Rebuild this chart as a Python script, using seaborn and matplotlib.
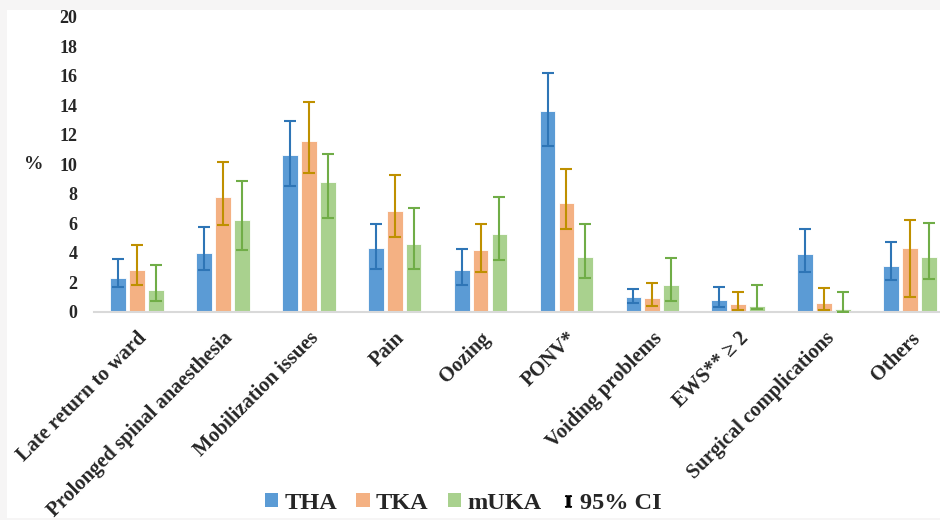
import pandas as pd
import seaborn as sns
import matplotlib.pyplot as plt
from matplotlib.patches import Patch, Rectangle
from matplotlib.lines import Line2D

# Categories and groups
categories = ['Late return to ward', 'Prolonged spinal anaesthesia', 'Mobilization issues',
              'Pain', 'Oozing', 'PONV*', 'Voiding problems', 'EWS** \u2265 2',
              'Surgical complications', 'Others']
groups = ['THA', 'TKA', 'mUKA']

# Percentages
tha = [2.3, 4.0, 10.6, 4.3, 2.8, 13.6, 1.0, 0.8, 3.9, 3.1]
tka = [2.8, 7.8, 11.6, 6.8, 4.2, 7.4, 0.9, 0.5, 0.6, 4.3]
muka = [1.5, 6.2, 8.8, 4.6, 5.3, 3.7, 1.8, 0.4, 0.2, 3.7]

# 95% CI bounds
tha_lo = [1.65, 2.85, 8.55, 2.9, 1.8, 11.25, 0.57, 0.3, 2.67, 2.13]
tha_hi = [3.57, 5.72, 12.95, 5.95, 4.25, 16.2, 1.54, 1.7, 5.59, 4.7]
tka_lo = [1.8, 5.88, 9.38, 5.04, 2.71, 5.59, 0.41, 0.1, 0.14, 1.0]
tka_hi = [4.5, 10.13, 14.22, 9.25, 5.97, 9.67, 1.97, 1.34, 1.59, 6.24]
muka_lo = [0.7, 4.2, 6.33, 2.92, 3.53, 2.28, 0.73, 0.2, 0.0, 2.24]
muka_hi = [3.17, 8.84, 10.71, 7.05, 7.8, 5.97, 3.62, 1.79, 1.34, 6.03]

bar_colors = ['#5B9BD5', '#F4B183', '#A9D18E']
err_colors = ['#2E75B6', '#BF9000', '#70AD47']

df = pd.DataFrame({
    'category': categories * 3,
    'group': [g for g in groups for _ in categories],
    'value': tha + tka + muka,
})
lows = [tha_lo, tka_lo, muka_lo]
highs = [tha_hi, tka_hi, muka_hi]

sns.set_style('white')
plt.rcParams['font.family'] = ['Liberation Serif', 'DejaVu Serif']
plt.rcParams['font.weight'] = 'bold'
plt.rcParams['mathtext.fontset'] = 'stix'

fig = plt.figure(figsize=(9.4, 5.2), dpi=100)
fig.patch.set_facecolor('#f6f5f5')
# white chart area inside the light grey frame
fig.add_artist(Rectangle((7 / 940, 2.5 / 520), 1, 507.5 / 520, transform=fig.transFigure,
                         facecolor='white', edgecolor='none', zorder=0))

ax = fig.add_axes([94 / 940, 1 - 311.7 / 520, 859 / 940, 295 / 520])
ax.set_facecolor('none')

sns.barplot(data=df, x='category', y='value', hue='group', palette=bar_colors,
            saturation=1, width=0.66, gap=0.16, errorbar=None, edgecolor='white',
            linewidth=0.6, legend=False, ax=ax)

# 95% CI error bars at the centre of every bar
bar_sets = list(ax.containers)
for i, bars in enumerate(bar_sets):
    xs = [b.get_x() + b.get_width() / 2 for b in bars]
    ys = [b.get_height() for b in bars]
    lo = [y - l for y, l in zip(ys, lows[i])]
    hi = [h - y for y, h in zip(ys, highs[i])]
    ax.errorbar(xs, ys, yerr=[lo, hi], fmt='none', ecolor=err_colors[i],
                elinewidth=1.5, capsize=4.3, capthick=1.5, zorder=3)

ax.set_ylim(0, 20)
ax.set_xlim(-0.5, 9.5)
ax.set_yticks(range(0, 21, 2))
ax.tick_params(axis='y', labelsize=13, pad=12, length=0)
ax.tick_params(axis='x', labelsize=14.8, pad=12, length=0)
ax.set_xticks(range(len(categories)))
ax.set_xticklabels(categories, rotation=45, ha='right', rotation_mode='anchor', fontweight='bold')
for t in ax.get_yticklabels():
    t.set_fontweight('bold')
ax.set_xlabel('')
ax.set_ylabel('%', rotation=0, fontsize=14, fontweight='bold', labelpad=0)
ax.yaxis.set_label_coords(-60 / 859, 0.5)
ax.yaxis.label.set_verticalalignment('center')

for s in ['top', 'right', 'left']:
    ax.spines[s].set_visible(False)
ax.spines['bottom'].set_color('#d9d9d9')
ax.spines['bottom'].set_linewidth(1.5)

handles = [Patch(facecolor=c, edgecolor='none') for c in bar_colors]
handles.append(Line2D([], [], color='black', linestyle='none', marker=r'$\mathrm{I}$', markersize=8))
fig.legend(handles, groups + ['95% CI'], loc='lower center', bbox_to_anchor=(0.493, -0.03),
           ncol=4, frameon=False, handlelength=0.55, handleheight=0.55,
           handletextpad=0.25, columnspacing=0.8, prop={'weight': 'bold', 'size': 17.5})

fig.savefig('out.png', dpi=100, facecolor=fig.get_facecolor())
